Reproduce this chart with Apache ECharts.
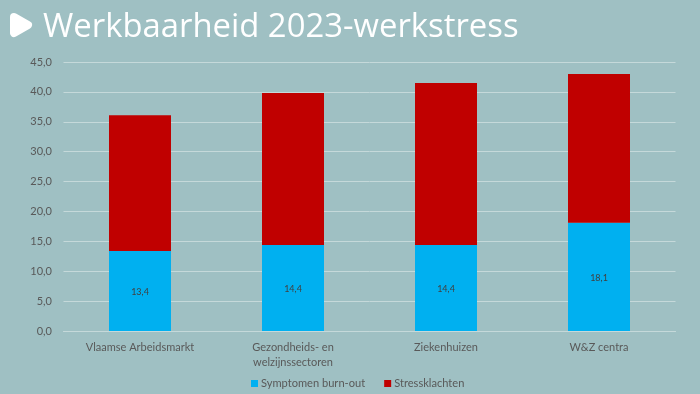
<!DOCTYPE html>
<html><head><meta charset="utf-8">
<style>html,body{margin:0;padding:0;background:#9fc0c3}#c{width:700px;height:394px}</style>
<script src="https://cdn.jsdelivr.net/npm/echarts@6/dist/echarts.min.js"></script>
</head><body><div id="c"></div>
<script>
const categories = ['Vlaamse Arbeidsmarkt', 'Gezondheids- en\nwelzijnssectoren', 'Ziekenhuizen', 'W&Z centra'];
const burnout = [13.4, 14.4, 14.4, 18.1];
const stress = [22.7, 25.4, 27.1, 24.9];
const font = 'Lato';
const comma = v => v.toFixed(1).replace('.', ',');
const chart = echarts.init(document.getElementById('c'), null, {renderer: 'canvas'});
chart.setOption({
  animation: false,
  backgroundColor: '#9fc0c3',
  textStyle: {fontFamily: font},
  title: {
    text: 'Werkbaarheid 2023-werkstress', left: 38, top: 6,
    textStyle: {color: '#fff', fontSize: 32.85, fontWeight: 'normal', fontFamily: 'Open Sans'}
  },
  graphic: [{
    type: 'polygon', silent: true,
    shape: {points: [[14, 17], [28, 25], [14, 33]]},
    style: {fill: '#fff', stroke: '#fff', lineWidth: 8, lineJoin: 'round'}
  }],
  grid: {left: 63.5, right: 24.5, top: 62, bottom: 63, containLabel: false},
  legend: {
    bottom: 0, left: 246, icon: 'rect', itemWidth: 7, itemHeight: 7, itemGap: 19,
    textStyle: {color: '#595959', fontSize: 11.1, fontFamily: font, padding: [0, 0, 0, -2]},
    data: ['Symptomen burn-out', 'Stressklachten']
  },
  xAxis: {
    type: 'category', data: categories,
    axisLine: {lineStyle: {color: '#c5d9da', width: 1}}, axisTick: {show: false},
    axisLabel: {color: '#595959', fontSize: 11, margin: 9, lineHeight: 15, fontFamily: font}
  },
  yAxis: {
    type: 'value', min: 0, max: 45, interval: 5,
    axisLine: {show: false}, axisTick: {show: false},
    axisLabel: {color: '#595959', fontSize: 11, margin: 11.5, formatter: comma, fontFamily: font},
    splitLine: {lineStyle: {color: '#c5d9da', width: 1}}
  },
  series: [
    {name: 'Symptomen burn-out', type: 'bar', stack: 't', data: burnout, barWidth: 62,
     itemStyle: {color: '#00b0f0'},
     label: {show: true, position: 'inside', offset: [0, 1], color: '#404040', fontSize: 9, fontFamily: font, formatter: p => comma(p.value)}},
    {name: 'Stressklachten', type: 'bar', stack: 't', data: stress, barWidth: 62,
     itemStyle: {color: '#c00000'}}
  ]
});
</script></body></html>
